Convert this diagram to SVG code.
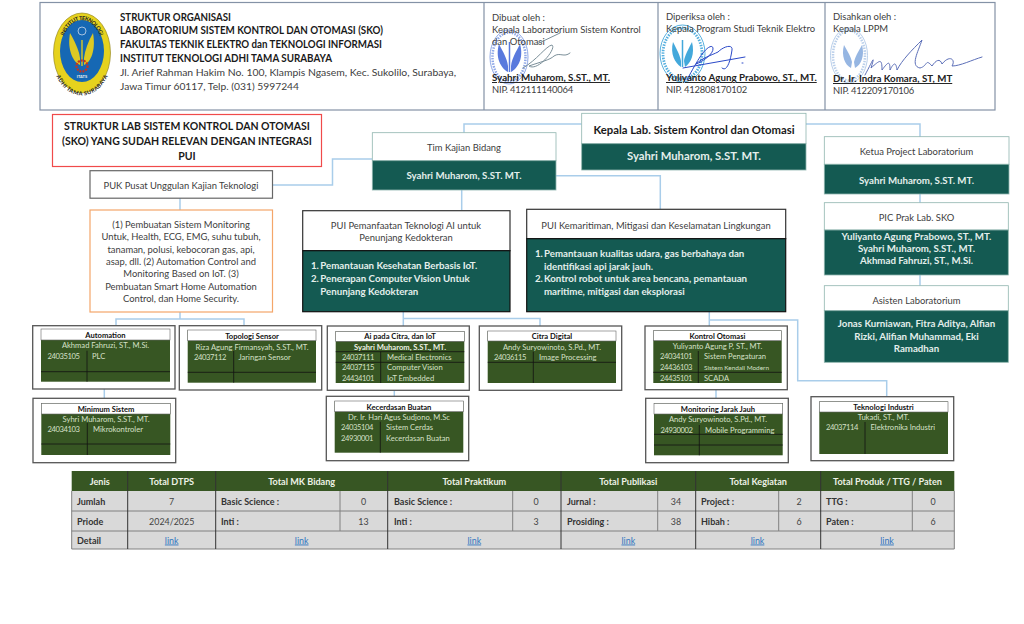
<svg xmlns="http://www.w3.org/2000/svg" width="1024" height="624" viewBox="0 0 1024 624">
<style>
text{font-family:Lato,"Open Sans","Liberation Sans",sans-serif;dominant-baseline:central;fill:#262626}
.m{text-anchor:middle}
.b{font-weight:700}
.h{font-size:10.5px;font-weight:700;fill:#1a1a1a}
.a{font-size:10.3px;fill:#404040}
.s{font-size:9.45px;fill:#404040}
.nm{font-size:9.75px;font-weight:700;fill:#222;text-decoration:underline}
.nip{font-size:9.4px;fill:#404040;letter-spacing:-.2px}
.t{font-size:10.5px;font-weight:700;fill:#1a1a1a}
.g{font-size:9.42px;fill:#404040}
.w{font-size:9.7px;font-weight:700;fill:#e4efec}
.tm{font-size:7.6px;font-weight:700;fill:#111}
.ts{font-size:7.6px;fill:#d6e0c8}
.cd{letter-spacing:-.4px}
.th{font-size:9.1px;font-weight:700;fill:#eef2e6}
.tb{font-size:9px;font-weight:700;fill:#333}
.tc{font-size:8.9px;fill:#444}
.lk{font-size:8.9px;fill:#2f74c0;text-decoration:underline}
.c{fill:none;stroke:#a9cdea;stroke-width:1.5}
.teal{fill:#145a52;stroke:#8fb5ae;stroke-width:.8}
.white{fill:#fff;stroke:#8fb5ae;stroke-width:.8}
.dark{fill:#145a52;stroke:#111;stroke-width:1.2}
.dw{fill:#fff;stroke:#333;stroke-width:1.2}
.o{fill:#fff;stroke:#555;stroke-width:1.3}
.i{fill:#375623}
.ib{fill:#fff;stroke:#666;stroke-width:.6}
.l{stroke:#111;stroke-width:.8;fill:none}
.tg{stroke:#808080;stroke-width:1;fill:none}
</style>
<defs>
<path id="la" d="M58 53A24 36 0 0 1 106 53"/>
<path id="lb" d="M55 55A27 37.500 0 0 0 109 55"/>
</defs>

<g id="connectors">
<path class="c" d="M272 185H332.500V159H372"/>
<path class="c" d="M180 198V210"/>
<path class="c" d="M180 312V319M116 325V319H244V325"/>
<path class="c" d="M104.300 389V398"/>
<path class="c" d="M581.700 124H464V132.700"/>
<path class="c" d="M806 124H920V137"/>
<path class="c" d="M461.700 190V210"/>
<path class="c" d="M556 175.700H660.300V209"/>
<path class="c" d="M403.300 312V326M403.300 318.500H540V326"/>
<path class="c" d="M394.300 390V396"/>
<path class="c" d="M709.300 312V326M709.300 320H797.700V380.700H886.700V396.700"/>
<path class="c" d="M716 390V398"/>
<path class="c" d="M920 194V202.700"/>
<path class="c" d="M920 275V285.700"/>
</g>

<g id="header">
<rect x="40" y="2.500" width="955" height="107.500" fill="#fff" stroke="#8492a6" stroke-width="1.200"/>
<path d="M484 2.500V110M658 2.500V110M825 2.500V110" stroke="#8492a6" stroke-width="1.200"/>
<g id="logo">
<ellipse cx="82" cy="53" rx="28.500" ry="40" fill="#e6d21e" stroke="#8a7a10" stroke-width=".6"/>
<ellipse cx="82" cy="51" rx="22" ry="31" fill="#1668b4"/>
<path d="M80 65C73 62 67 50 70 33C75 42 79 50 80 58Z" fill="#dcc923"/>
<path d="M84 65C91 62 96 50 93 33C88 42 85 50 84 58Z" fill="#dcc923"/>
<path d="M82 40V66" stroke="#dcc923" stroke-width="1.400"/>
<circle cx="82" cy="66" r="5.500" fill="none" stroke="#c8321e" stroke-width="2.200" stroke-dasharray="2 1"/>
<circle cx="82" cy="31" r="4" fill="none" stroke="#c9d8ea" stroke-width=".8"/>
<text class="m b" x="82" y="76" style="font-size:4px;fill:#eee">ITATS</text>
<text class="b" style="font-size:5.600px;fill:#222"><textPath href="#la" startOffset="50%" text-anchor="middle">INSTITUT TEKNOLOGI</textPath></text>
<text class="b" style="font-size:5.600px;fill:#222"><textPath href="#lb" startOffset="50%" text-anchor="middle">ADHI TAMA SURABAYA</textPath></text>
</g>
<text class="h" x="120" y="16.700" textLength="111" lengthAdjust="spacingAndGlyphs">STRUKTUR ORGANISASI</text>
<text class="h" x="120" y="30.300" textLength="263" lengthAdjust="spacingAndGlyphs">LABORATORIUM SISTEM KONTROL DAN OTOMASI (SKO)</text>
<text class="h" x="120" y="44" textLength="262" lengthAdjust="spacingAndGlyphs">FAKULTAS TEKNIK ELEKTRO dan TEKNOLOGI INFORMASI</text>
<text class="h" x="120" y="58" textLength="212" lengthAdjust="spacingAndGlyphs">INSTITUT TEKNOLOGI ADHI TAMA SURABAYA</text>
<text class="a" x="120" y="71.700" textLength="336" lengthAdjust="spacingAndGlyphs">Jl. Arief Rahman Hakim No. 100, Klampis Ngasem, Kec. Sukolilo, Surabaya,</text>
<text class="a" x="120" y="85.700" textLength="179" lengthAdjust="spacingAndGlyphs">Jawa Timur 60117, Telp. (031) 5997244</text>

<g id="stamp-1" opacity=".85">
<ellipse cx="509" cy="57" rx="19" ry="27" fill="none" stroke="#7d9ae4" stroke-width="1"/>
<ellipse cx="509" cy="57" rx="16.500" ry="24.500" fill="none" stroke="#7d9ae4" stroke-width="2.500" stroke-dasharray="1.500 1.200"/>
<path d="M508 72C501 68 495 58 499 44C503 52 507 58 508 66Z" fill="#3d62d8"/>
<path d="M511 72C518 68 524 58 520 44C516 52 512 58 511 66Z" fill="#3d62d8"/>
<path d="M509.500 42V72" stroke="#3d62d8" stroke-width="1.500"/>
</g>
<text class="s" x="492" y="17">Dibuat oleh :</text>
<text class="s" x="492" y="29">Kepala Laboratorium Sistem Kontrol</text>
<text class="s" x="492" y="41">dan Otomasi</text>
<text class="nm" x="492" y="77">Syahri Muharom, S.ST., MT.</text>
<text class="nip" x="492" y="89.500">NIP. 412111140064</text>

<g id="stamp-2" opacity=".9">
<ellipse cx="682.500" cy="53.500" rx="22.500" ry="28.500" fill="none" stroke="#45a8dc" stroke-width="1"/>
<ellipse cx="682.500" cy="53.500" rx="19.500" ry="25.500" fill="none" stroke="#45a8dc" stroke-width="2.800" stroke-dasharray="1.500 1.200"/>
<path d="M681 67C675 63 670 54 673 42C677 50 680 55 681 61Z" fill="#2f9fd8"/>
<path d="M685 67C691 63 695 54 692 42C688 50 685 55 684 61Z" fill="#2f9fd8"/>
<path d="M682.500 40V67" stroke="#2f9fd8" stroke-width="1.500"/>
</g>
<text class="s" x="666" y="16">Diperiksa oleh :</text>
<text class="s" x="666" y="28">Kepala Program Studi Teknik Elektro</text>
<text class="nm" x="666" y="77">Yuliyanto Agung Prabowo, ST., MT.</text>
<text class="nip" x="666" y="89.500">NIP. 412808170102</text>

<g id="stamp-3" opacity=".8">
<ellipse cx="849" cy="55.500" rx="18.500" ry="27.500" fill="none" stroke="#a9c4e6" stroke-width="1"/>
<ellipse cx="849" cy="55.500" rx="16" ry="25" fill="none" stroke="#a9c4e6" stroke-width="2.500" stroke-dasharray="1.500 1.200"/>
<path d="M851 68C845 65 841 56 844 45C848 52 851 57 852 62Z" fill="#7da4dc"/>
<path d="M855 68C861 65 865 56 862 45C858 52 855 57 854 62Z" fill="#7da4dc"/>
</g>
<text class="s" x="833" y="16">Disahkan oleh :</text>
<text class="s" x="833" y="28">Kepala LPPM</text>
<text class="nm" x="833" y="78">Dr. Ir. Indra Komara, ST, MT</text>
<text class="nip" x="833" y="90">NIP. 412209170106</text>

<g id="signatures" fill="none" stroke-width="1" stroke-linecap="round">
<path stroke="#7b8f99" d="M523 68C537 60 546 46 552 45C557 48 538 72 529 66C540 62 550 60 554 56C560 52 564 58 570 53M537 44L560 33"/>
<path stroke="#2b49c8" d="M687 80C692 70 698 60 700 57C706 48 712 44 713 48C714 54 702 62 696 64C702 58 712 55 718 52C724 46 733 44 732 50C730 64 726 72 722 68M683 68L745 57M742 63H743"/>
<path stroke="#5c6fb8" d="M865 75C872 62 876 52 871 68C880 60 882 58 882 70C888 62 890 60 890 70C894 62 896 62 897 70C902 60 912 50 922 40C918 52 910 66 920 68C928 66 925 58 932 66C936 60 940 58 942 64C950 54 956 60 952 66C960 66 972 60 982 57"/>
</g>
</g>

<g id="title-box">
<rect x="52.500" y="114.500" width="269" height="52" fill="#fff" stroke="#f04a4a" stroke-width="1.200"/>
<text class="m t" x="187" y="125.700">STRUKTUR LAB SISTEM KONTROL DAN OTOMASI</text>
<text class="m t" x="187" y="141">(SKO) YANG SUDAH RELEVAN DENGAN INTEGRASI</text>
<text class="m t" x="187" y="155.500">PUI</text>
</g>
<g id="puk">
<rect x="90" y="170.700" width="182.500" height="27.500" fill="#fff" stroke="#666" stroke-width="1.200"/>
<text class="m g" x="181" y="185">PUK Pusat Unggulan Kajian Teknologi</text>
</g>
<g id="puk-detail">
<rect x="90" y="210" width="182.500" height="102" fill="#fff" stroke="#f4a66a" stroke-width="1.200"/>
<text class="m g" x="181" y="224">(1) Pembuatan Sistem Monitoring</text>
<text class="m g" x="181" y="236.500">Untuk, Health, ECG, EMG, suhu tubuh,</text>
<text class="m g" x="181" y="249">tanaman, polusi, kebocoran gas, api,</text>
<text class="m g" x="181" y="261">asap, dll. (2) Automation Control and</text>
<text class="m g" x="181" y="273.500">Monitoring Based on IoT. (3)</text>
<text class="m g" x="181" y="286">Pembuatan Smart Home Automation</text>
<text class="m g" x="181" y="298.500">Control, dan Home Security.</text>
</g>

<g id="tim">
<rect class="white" x="372.300" y="132.700" width="183.700" height="28"/>
<rect class="teal" x="372.300" y="160.700" width="183.700" height="29.300"/>
<text class="m g" x="464" y="147">Tim Kajian Bidang</text>
<text class="m w" x="464" y="175">Syahri Muharom, S.ST. MT.</text>
</g>
<g id="kepala">
<rect class="white" x="581.700" y="113.300" width="224.300" height="30.400"/>
<rect class="teal" x="581.700" y="143.700" width="224.300" height="26.300"/>
<text class="m b" x="694" y="129" style="font-size:11.300px;fill:#1a1a1a">Kepala Lab. Sistem Kontrol dan Otomasi</text>
<text class="m b" x="694" y="155" style="font-size:11.300px;fill:#e4efec">Syahri Muharom, S.ST. MT.</text>
</g>
<g id="pui-ai">
<rect class="dw" x="302.700" y="210.700" width="207.300" height="40"/>
<rect class="dark" x="302.700" y="250.700" width="207.300" height="61"/>
<text class="m g" x="406" y="225">PUI Pemanfaatan Teknologi AI untuk</text>
<text class="m g" x="406" y="237.500">Penunjang Kedokteran</text>
<text class="w" x="311" y="265.300">1.</text><text class="w" x="320.300" y="265.300">Pemantauan Kesehatan Berbasis IoT.</text>
<text class="w" x="311" y="278">2.</text><text class="w" x="320.300" y="278">Penerapan Computer Vision Untuk</text>
<text class="w" x="320.300" y="290.500">Penunjang Kedokteran</text>
</g>
<g id="pui-maritim">
<rect class="dw" x="526.700" y="209.300" width="259" height="29.400"/>
<rect class="dark" x="526.700" y="238.700" width="259" height="73"/>
<text class="m g" x="656" y="225">PUI Kemaritiman, Mitigasi dan Keselamatan Lingkungan</text>
<text class="w" x="535" y="253">1.</text><text class="w" x="544" y="253">Pemantauan kualitas udara, gas berbahaya dan</text>
<text class="w" x="544" y="266">identifikasi api jarak jauh.</text>
<text class="w" x="535" y="278">2.</text><text class="w" x="544" y="278">Kontrol robot untuk area bencana, pemantauan</text>
<text class="w" x="544" y="291">maritime, mitigasi dan eksplorasi</text>
</g>
<g id="ketua">
<rect class="white" x="824.300" y="136.700" width="184.700" height="27.600"/>
<rect class="teal" x="824.300" y="164.300" width="184.700" height="29.700"/>
<text class="m g" x="916.500" y="151.600">Ketua Project Laboratorium</text>
<text class="m w" x="916.500" y="179.600">Syahri Muharom, S.ST. MT.</text>
</g>
<g id="pic">
<rect class="white" x="824.300" y="202.700" width="184" height="27.300"/>
<rect class="teal" x="824.300" y="230" width="184" height="45"/>
<text class="m g" x="916.500" y="217">PIC Prak Lab. SKO</text>
<text class="m w" x="916.500" y="235.700">Yuliyanto Agung Prabowo, ST., MT.</text>
<text class="m w" x="916.500" y="248">Syahri Muharom, S.ST., MT.</text>
<text class="m w" x="916.500" y="260">Akhmad Fahruzi, ST., M.Si.</text>
</g>
<g id="asisten">
<rect class="white" x="824.300" y="285.700" width="184" height="25"/>
<rect class="teal" x="824.300" y="310.700" width="184" height="51.600"/>
<text class="m g" x="916.500" y="300">Asisten Laboratorium</text>
<text class="m w" x="916.500" y="323">Jonas Kurniawan, Fitra Aditya, Alfian</text>
<text class="m w" x="916.500" y="335.500">Rizki, Alifian Muhammad, Eki</text>
<text class="m w" x="916.500" y="347.500">Ramadhan</text>
</g>

<g id="automation">
<rect class="o" x="32.700" y="325.700" width="142.300" height="63.300"/>
<rect class="i" x="41" y="329" width="129" height="52.700"/><rect class="ib" x="41" y="329" width="129" height="11"/>
<path class="l" d="M87 350.700V381.700M41 371.700H170"/>
<text class="m tm" x="105.500" y="335">Automation</text>
<text class="m ts" x="105.500" y="345">Akhmad Fahruzi, ST., M.Si.</text>
<text class="ts cd" x="47.500" y="355.700">24035105</text><text class="ts" x="92" y="355.700">PLC</text>
</g>
<g id="topologi">
<rect class="o" x="179.300" y="325.700" width="142.400" height="64.300"/>
<rect class="i" x="187.700" y="330" width="128.300" height="52.700"/><rect class="ib" x="187.700" y="330" width="128.300" height="10.700"/>
<path class="l" d="M233.700 351V382.700M187.700 372.300H316"/>
<text class="m tm" x="252" y="335.500">Topologi Sensor</text>
<text class="m ts" x="252" y="346.500">Riza Agung Firmansyah, S.ST., MT.</text>
<text class="ts cd" x="194" y="356.500">24037112</text><text class="ts" x="238.500" y="356.500">Jaringan Sensor</text>
</g>
<g id="minimum">
<rect class="o" x="33" y="398.300" width="142.700" height="64.400"/>
<rect class="i" x="41.300" y="403.300" width="129" height="51.700"/><rect class="ib" x="41.300" y="403.300" width="129" height="10.700"/>
<path class="l" d="M87.300 423V455M41.300 444H170.300"/>
<text class="m tm" x="106" y="408.800">Minimum Sistem</text>
<text class="m ts" x="106" y="419">Syhri Muharom, S.ST., MT.</text>
<text class="ts cd" x="47.500" y="429">24034103</text><text class="ts" x="93" y="429">Mikrokontroler</text>
</g>
<g id="ai-citra">
<rect class="o" x="327.300" y="326" width="142" height="64.300"/>
<rect class="i" x="335.700" y="331.300" width="128.600" height="51.700"/><rect class="ib" x="335.700" y="331.300" width="128.600" height="10"/>
<path class="l" d="M380.700 351.700V383M335.700 351.700H464.300M335.700 362.300H464.300"/>
<text class="m tm" x="400" y="336">Ai pada Citra, dan IoT</text>
<text class="m ts b" x="400" y="347" style="fill:#eef2e6">Syahri Muharom, S.ST., MT.</text>
<text class="ts cd" x="342" y="357">24037111</text><text class="ts" x="387" y="357">Medical Electronics</text>
<text class="ts cd" x="342" y="367.300">24037115</text><text class="ts" x="387" y="367.300">Computer Vision</text>
<text class="ts cd" x="342" y="378">24434101</text><text class="ts" x="387" y="378">IoT Embedded</text>
</g>
<g id="citra-digital">
<rect class="o" x="479.300" y="326" width="142.400" height="64.300"/>
<rect class="i" x="487.700" y="331" width="128.300" height="52"/><rect class="ib" x="487.700" y="331" width="128.300" height="10"/>
<path class="l" d="M533.300 351.700V383M487.700 362.300H616"/>
<text class="m tm" x="552" y="336">Citra Digital</text>
<text class="m ts" x="552" y="347">Andy Suryowinoto, S.Pd., MT.</text>
<text class="ts cd" x="494" y="357">24036115</text><text class="ts" x="539" y="357">Image Processing</text>
</g>
<g id="kecerdasan">
<rect class="o" x="326.300" y="396.300" width="142.400" height="64.400"/>
<rect class="i" x="334.700" y="401" width="128.600" height="51.700"/><rect class="ib" x="334.700" y="401" width="128.600" height="10.700"/>
<path class="l" d="M380.300 421.700V452.700"/>
<text class="m tm" x="399" y="406.500">Kecerdasan Buatan</text>
<text class="m ts" x="399" y="417">Dr. Ir. Hari Agus Sudjono, M.Sc</text>
<text class="ts cd" x="341" y="427">24035104</text><text class="ts" x="386" y="427">Sistem Cerdas</text>
<text class="ts cd" x="341" y="438">24930001</text><text class="ts" x="386" y="438">Kecerdasan Buatan</text>
</g>
<g id="kontrol">
<rect class="o" x="645" y="326" width="142.300" height="63.700"/>
<rect class="i" x="653.300" y="330.700" width="128.400" height="52.300"/><rect class="ib" x="653.300" y="330.700" width="128.400" height="10"/>
<path class="l" d="M698.300 351V383M653.300 372.300H781.700"/>
<text class="m tm" x="717.500" y="335.700">Kontrol Otomasi</text>
<text class="m ts" x="717.500" y="346">Yuliyanto Agung P, ST., MT.</text>
<text class="ts cd" x="660" y="356.300">24034101</text><text class="ts" x="704" y="356.300">Sistem Pengaturan</text>
<text class="ts cd" x="660" y="367">24436103</text><text class="ts" x="704" y="367" style="font-size:6.400px">Sistem Kendali Modern</text>
<text class="ts cd" x="660" y="378">24435101</text><text class="ts" x="704" y="378">SCADA</text>
</g>
<g id="monitoring">
<rect class="o" x="645.700" y="398.300" width="142.600" height="64.400"/>
<rect class="i" x="654" y="403.300" width="128.700" height="52"/><rect class="ib" x="654" y="403.300" width="128.700" height="10.700"/>
<path class="l" d="M699.300 425V455.300M654 434.300H782.700M654 445H782.700"/>
<text class="m tm" x="718" y="408.800">Monitoring Jarak Jauh</text>
<text class="m ts" x="718" y="419">Andy Suryowinoto, S.Pd., MT.</text>
<text class="ts cd" x="660.500" y="429.700">24930002</text><text class="ts" x="705" y="429.700">Mobile Programming</text>
</g>
<g id="teknologi">
<rect class="o" x="811" y="396.700" width="142.700" height="64"/>
<rect class="i" x="819.300" y="401.700" width="128.700" height="52.300"/><rect class="ib" x="819.300" y="401.700" width="128.700" height="10.300"/>
<path class="l" d="M865 422V454"/>
<text class="m tm" x="883.500" y="406.800">Teknologi Industri</text>
<text class="m ts" x="883.500" y="417">Tukadi, ST., MT.</text>
<text class="ts cd" x="826" y="427.300">24037114</text><text class="ts" x="870.500" y="427.300">Elektronika Industri</text>
</g>

<g id="summary-table">
<rect x="71.700" y="491" width="882.600" height="58" fill="#d9d9d9"/>
<rect x="71.700" y="471" width="882.600" height="20" fill="#375623"/>
<path class="tg" d="M71.700 511H954.300M71.700 531H954.300M71.700 549H954.300M71.700 491V549M954.300 491V549M340 491V531M512.700 491V531M657.700 491V531M778.700 491V531M912.300 491V531"/>
<path stroke="#333" stroke-width="1" d="M127.700 471V549M215.700 471V549M387.700 471V549M561 471V549M695.700 471V549M820.700 471V549"/>
<text class="m th" x="99.700" y="481">Jenis</text>
<text class="m th" x="171.700" y="481">Total DTPS</text>
<text class="m th" x="301.700" y="481">Total MK Bidang</text>
<text class="m th" x="474.300" y="481">Total Praktikum</text>
<text class="m th" x="628.300" y="481">Total Publikasi</text>
<text class="m th" x="758.200" y="481">Total Kegiatan</text>
<text class="m th" x="887.500" y="481">Total Produk / TTG / Paten</text>
<text class="tb" x="77" y="501.500">Jumlah</text><text class="tb" x="77" y="521">Priode</text><text class="tb" x="77" y="540">Detail</text>
<text class="m tc" x="171.700" y="501.500">7</text><text class="m tc" x="171.700" y="521">2024/2025</text>
<text class="tb" x="221" y="501.500">Basic Science :</text><text class="tb" x="221" y="521">Inti :</text>
<text class="m tc" x="363.500" y="501.500">0</text><text class="m tc" x="363.500" y="521">13</text>
<text class="tb" x="394" y="501.500">Basic Science :</text><text class="tb" x="394" y="521">Inti :</text>
<text class="m tc" x="536" y="501.500">0</text><text class="m tc" x="536" y="521">3</text>
<text class="tb" x="567" y="501.500">Jurnal :</text><text class="tb" x="567" y="521">Prosiding :</text>
<text class="m tc" x="676" y="501.500">34</text><text class="m tc" x="676" y="521">38</text>
<text class="tb" x="701" y="501.500">Project :</text><text class="tb" x="701" y="521">Hibah :</text>
<text class="m tc" x="799" y="501.500">2</text><text class="m tc" x="799" y="521">6</text>
<text class="tb" x="826" y="501.500">TTG :</text><text class="tb" x="826" y="521">Paten :</text>
<text class="m tc" x="933" y="501.500">0</text><text class="m tc" x="933" y="521">6</text>
<text class="m lk" x="171.700" y="540">link</text>
<text class="m lk" x="301.700" y="540">link</text>
<text class="m lk" x="474.300" y="540">link</text>
<text class="m lk" x="628.300" y="540">link</text>
<text class="m lk" x="757.500" y="540">link</text>
<text class="m lk" x="887" y="540">link</text>
</g>
</svg>
